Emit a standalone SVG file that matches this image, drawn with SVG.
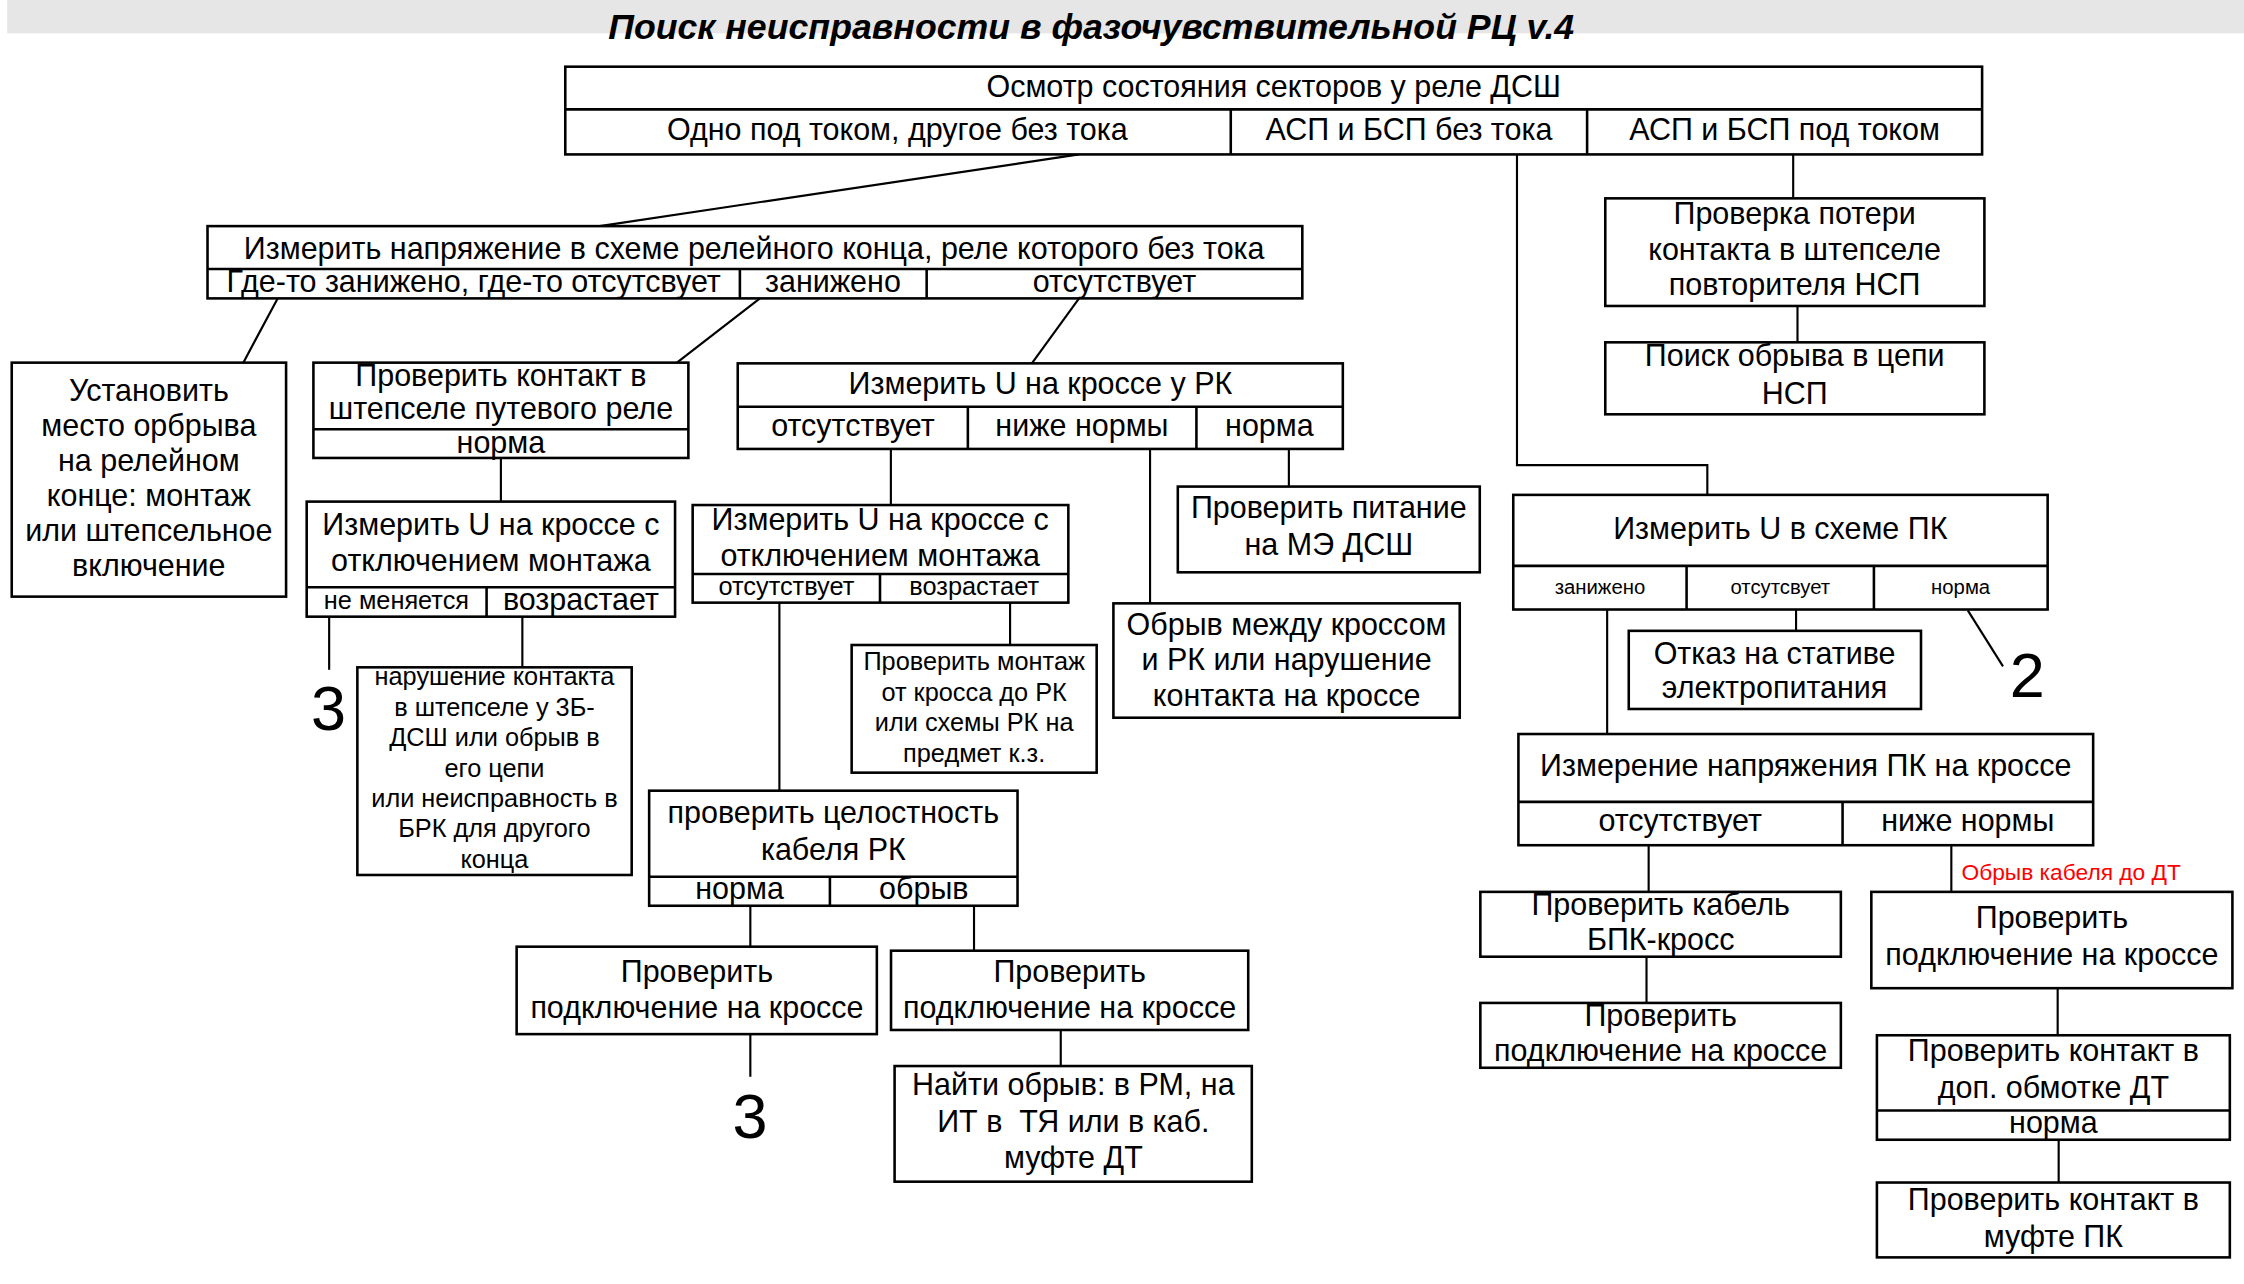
<svg xmlns="http://www.w3.org/2000/svg" width="2244" height="1284" viewBox="0 0 2244 1284">
<style>
.b{fill:#fff;stroke:#000;stroke-width:1.8}
.d{stroke:#000;stroke-width:1.8;fill:none}
.l{stroke:#000;stroke-width:1.5;fill:none}
text{font-family:"Liberation Sans",Arial,sans-serif;font-size:21.3px;text-anchor:middle;fill:#000}
.s{font-size:17.7px}
.xs{font-size:14.2px}
.n{font-size:44px}
.red{font-size:15.9px;fill:#ff0000;text-anchor:start}
.title{font-weight:bold;font-style:italic;font-size:24.7px}
</style>
<rect x="0" y="0" width="2244" height="1284" fill="#fff"/>
<g transform="scale(1.43112)">
<g id="title">
<rect x="5" y="0" width="1563" height="23.3" fill="#e6e6e6"/>
<text class="title" x="762.5" y="27.5" textLength="675" lengthAdjust="spacingAndGlyphs">Поиск неисправности в фазочувствительной РЦ v.4</text>
</g>
<g id="connectors">
<line class="l" x1="754" y1="107.9" x2="419" y2="158"/>
<line class="l" x1="194" y1="208.5" x2="170" y2="253.4"/>
<line class="l" x1="531" y1="208.5" x2="473" y2="253.4"/>
<line class="l" x1="754" y1="208.5" x2="721" y2="253.9"/>
<line class="l" x1="350" y1="320" x2="350" y2="350.5"/>
<line class="l" x1="230" y1="430.9" x2="230" y2="468"/>
<line class="l" x1="365" y1="430.9" x2="365" y2="466.3"/>
<line class="l" x1="622.5" y1="313.7" x2="622.5" y2="352.9"/>
<line class="l" x1="803.6" y1="313.7" x2="803.6" y2="421.6"/>
<line class="l" x1="900.6" y1="313.7" x2="900.6" y2="340"/>
<line class="l" x1="544.6" y1="421.1" x2="544.6" y2="552.5"/>
<line class="l" x1="705.8" y1="421.1" x2="705.8" y2="450.7"/>
<line class="l" x1="524.3" y1="632.9" x2="524.3" y2="661.5"/>
<line class="l" x1="680.6" y1="632.9" x2="680.6" y2="664.3"/>
<line class="l" x1="524.3" y1="722.6" x2="524.3" y2="752.4"/>
<line class="l" x1="741.2" y1="719.7" x2="741.2" y2="744.9"/>
<line class="l" x1="1253" y1="107.9" x2="1253" y2="138.6"/>
<line class="l" x1="1256" y1="213.8" x2="1256" y2="239.2"/>
<polyline class="l" points="1060,107.9 1060,325 1193,325 1193,345.8"/>
<line class="l" x1="1123" y1="425.9" x2="1123" y2="512.9"/>
<line class="l" x1="1255" y1="425.9" x2="1255" y2="440.8"/>
<line class="l" x1="1375" y1="426.5" x2="1399.6" y2="465.6"/>
<line class="l" x1="1152" y1="590.6" x2="1152" y2="623.2"/>
<line class="l" x1="1363.5" y1="590.6" x2="1363.5" y2="623.2"/>
<line class="l" x1="1150.5" y1="668.5" x2="1150.5" y2="700.8"/>
<line class="l" x1="1437.8" y1="690.5" x2="1437.8" y2="723.4"/>
<line class="l" x1="1438.5" y1="796.4" x2="1438.5" y2="826.3"/>
</g>
<g id="n1">
<rect class="b" x="395" y="46.6" width="990" height="61.3"/>
<line class="d" x1="395" y1="76.4" x2="1385" y2="76.4"/>
<line class="d" x1="860" y1="76.4" x2="860" y2="107.9"/>
<line class="d" x1="1109" y1="76.4" x2="1109" y2="107.9"/>
<text x="890" y="68">Осмотр состояния секторов у реле ДСШ</text>
<text x="627" y="98">Одно под током, другое без тока</text>
<text x="984.5" y="98">АСП и БСП без тока</text>
<text x="1247" y="98">АСП и БСП под током</text>
</g>
<g id="n2">
<rect class="b" x="145" y="158" width="765" height="50.5"/>
<line class="d" x1="145" y1="188" x2="910" y2="188"/>
<line class="d" x1="517" y1="188" x2="517" y2="208.5"/>
<line class="d" x1="647.5" y1="188" x2="647.5" y2="208.5"/>
<text x="527" y="181">Измерить напряжение в схеме релейного конца, реле которого без тока</text>
<text x="331" y="204">Где-то занижено, где-то отсутсвует</text>
<text x="582" y="204">занижено</text>
<text x="778.7" y="204">отсутствует</text>
</g>
<g id="n3">
<rect class="b" x="8.2" y="253.4" width="191.7" height="163.5"/>
<text x="104" y="280">Установить</text>
<text x="104" y="304.5">место орбрыва</text>
<text x="104" y="329">на релейном</text>
<text x="104" y="353.5">конце: монтаж</text>
<text x="104" y="378">или штепсельное</text>
<text x="104" y="402.5">включение</text>
</g>
<g id="n4">
<rect class="b" x="219" y="253.4" width="262" height="66.6"/>
<line class="d" x1="219" y1="300" x2="481" y2="300"/>
<text x="350" y="270">Проверить контакт в</text>
<text x="350" y="293">штепселе путевого реле</text>
<text x="350" y="316.5">норма</text>
</g>
<g id="n5">
<rect class="b" x="214.3" y="350.5" width="257.4" height="80.4"/>
<line class="d" x1="214.3" y1="410.4" x2="471.7" y2="410.4"/>
<line class="d" x1="340" y1="410.4" x2="340" y2="430.9"/>
<text x="343" y="373.8">Измерить U на кроссе с</text>
<text x="343" y="398.8">отключением монтажа</text>
<text class="s" x="277" y="425.5">не меняется</text>
<text x="405.9" y="426.5">возрастает</text>
</g>
<g id="n5a">
<text class="n" x="229.5" y="510">3</text>
</g>
<g id="n6">
<rect class="b" x="249.7" y="466.3" width="191.7" height="145.1"/>
<text class="s" x="345.5" y="478.7">нарушение контакта</text>
<text class="s" x="345.5" y="500">в штепселе у 3Б-</text>
<text class="s" x="345.5" y="521.3">ДСШ или обрыв в</text>
<text class="s" x="345.5" y="542.6">его цепи</text>
<text class="s" x="345.5" y="563.9">или неисправность в</text>
<text class="s" x="345.5" y="585.2">БРК для другого</text>
<text class="s" x="345.5" y="606.5">конца</text>
</g>
<g id="n7">
<rect class="b" x="515.5" y="253.9" width="422.8" height="59.8"/>
<line class="d" x1="515.5" y1="284.2" x2="938.3" y2="284.2"/>
<line class="d" x1="676.3" y1="284.2" x2="676.3" y2="313.7"/>
<line class="d" x1="836" y1="284.2" x2="836" y2="313.7"/>
<text x="727" y="275">Измерить U на кроссе у РК</text>
<text x="596" y="305">отсутствует</text>
<text x="756" y="305">ниже нормы</text>
<text x="887" y="305">норма</text>
</g>
<g id="n8">
<rect class="b" x="484" y="352.9" width="262.5" height="68.2"/>
<line class="d" x1="484" y1="401.1" x2="746.5" y2="401.1"/>
<line class="d" x1="614.9" y1="401.1" x2="614.9" y2="421.1"/>
<text x="615" y="370.3">Измерить U на кроссе с</text>
<text x="615" y="395.5">отключением монтажа</text>
<text class="s" x="549.5" y="416">отсутствует</text>
<text class="s" x="680.7" y="416">возрастает</text>
</g>
<g id="n9">
<rect class="b" x="595.1" y="450.7" width="171.2" height="89.2"/>
<text class="s" x="680.7" y="468.5">Проверить монтаж</text>
<text class="s" x="680.7" y="489.8">от кросса до РК</text>
<text class="s" x="680.7" y="511.1">или схемы РК на</text>
<text class="s" x="680.7" y="532.4">предмет к.з.</text>
</g>
<g id="n10">
<rect class="b" x="823" y="340" width="211" height="59.9"/>
<text x="928.5" y="362.2">Проверить питание</text>
<text x="928.5" y="387.8">на МЭ ДСШ</text>
</g>
<g id="n11">
<rect class="b" x="778" y="421.6" width="242" height="79.9"/>
<text x="899" y="443.5">Обрыв между кроссом</text>
<text x="899" y="468.5">и РК или нарушение</text>
<text x="899" y="493.5">контакта на кроссе</text>
</g>
<g id="n12">
<rect class="b" x="453.6" y="552.5" width="257.4" height="80.4"/>
<line class="d" x1="453.6" y1="612.6" x2="711" y2="612.6"/>
<line class="d" x1="579.9" y1="612.6" x2="579.9" y2="632.9"/>
<text x="582.3" y="575.3">проверить целостность</text>
<text x="582.3" y="601">кабеля РК</text>
<text x="516.8" y="628">норма</text>
<text x="645.5" y="628">обрыв</text>
</g>
<g id="n13">
<rect class="b" x="361" y="661.5" width="251.7" height="61.1"/>
<text x="487" y="686">Проверить</text>
<text x="487" y="711.6">подключение на кроссе</text>
</g>
<g id="n13a">
<text class="n" x="524" y="795.4">3</text>
</g>
<g id="n14">
<rect class="b" x="622.6" y="664.3" width="249.6" height="55.4"/>
<text x="747.4" y="686">Проверить</text>
<text x="747.4" y="711.6">подключение на кроссе</text>
</g>
<g id="n15">
<rect class="b" x="625.1" y="744.9" width="249.6" height="80.8"/>
<text x="750" y="765.1">Найти обрыв: в РМ, на</text>
<text x="750" y="790.8" xml:space="preserve">ИТ в  ТЯ или в каб.</text>
<text x="750" y="816.4">муфте ДТ</text>
</g>
<g id="n16">
<rect class="b" x="1121.7" y="138.6" width="264.9" height="75.2"/>
<text x="1254" y="156.7">Проверка потери</text>
<text x="1254" y="181.5">контакта в штепселе</text>
<text x="1254" y="206.3">повторителя НСП</text>
</g>
<g id="n17">
<rect class="b" x="1121.7" y="239.2" width="264.9" height="50.3"/>
<text x="1254" y="256">Поиск обрыва в цепи</text>
<text x="1254" y="282">НСП</text>
</g>
<g id="n18">
<rect class="b" x="1057.4" y="345.8" width="373.4" height="80.1"/>
<line class="d" x1="1057.4" y1="395.4" x2="1430.8" y2="395.4"/>
<line class="d" x1="1178.5" y1="395.4" x2="1178.5" y2="425.9"/>
<line class="d" x1="1309.4" y1="395.4" x2="1309.4" y2="425.9"/>
<text x="1244" y="376.3">Измерить U в схеме ПК</text>
<text class="xs" x="1118" y="414.8">занижено</text>
<text class="xs" x="1244" y="414.8">отсутсвует</text>
<text class="xs" x="1370" y="414.8">норма</text>
</g>
<g id="n18a">
<text class="n" x="1416.5" y="486.7">2</text>
</g>
<g id="n19">
<rect class="b" x="1138.1" y="440.8" width="204.2" height="54.6"/>
<text x="1240" y="464.1">Отказ на стативе</text>
<text x="1240" y="487.7">электропитания</text>
</g>
<g id="n20">
<rect class="b" x="1061" y="512.9" width="401.6" height="77.7"/>
<line class="d" x1="1061" y1="560.3" x2="1462.6" y2="560.3"/>
<line class="d" x1="1287.5" y1="560.3" x2="1287.5" y2="590.6"/>
<text x="1261.8" y="542.2">Измерение напряжения ПК на кроссе</text>
<text x="1174" y="581">отсутствует</text>
<text x="1375" y="581">ниже нормы</text>
</g>
<g id="lbl-red">
<text class="red" x="1370.6" y="614.6">Обрыв кабеля до ДТ</text>
</g>
<g id="n21">
<rect class="b" x="1034.4" y="623.2" width="251.9" height="45.3"/>
<text x="1160.4" y="639.2">Проверить кабель</text>
<text x="1160.4" y="663.8">БПК-кросс</text>
</g>
<g id="n22">
<rect class="b" x="1034.4" y="700.8" width="251.9" height="45.3"/>
<text x="1160.4" y="716.9">Проверить</text>
<text x="1160.4" y="741.5">подключение на кроссе</text>
</g>
<g id="n23">
<rect class="b" x="1307.6" y="623.2" width="252.3" height="67.3"/>
<text x="1433.8" y="648.3">Проверить</text>
<text x="1433.8" y="674.2">подключение на кроссе</text>
</g>
<g id="n24">
<rect class="b" x="1311.5" y="723.4" width="246.6" height="73"/>
<line class="d" x1="1311.5" y1="776" x2="1558.1" y2="776"/>
<text x="1434.8" y="741.5">Проверить контакт в</text>
<text x="1434.8" y="767.4">доп. обмотке ДТ</text>
<text x="1434.8" y="792">норма</text>
</g>
<g id="n25">
<rect class="b" x="1311.5" y="826.3" width="246.6" height="52.3"/>
<text x="1434.8" y="845.8">Проверить контакт в</text>
<text x="1434.8" y="871">муфте ПК</text>
</g>
</g>
</svg>
